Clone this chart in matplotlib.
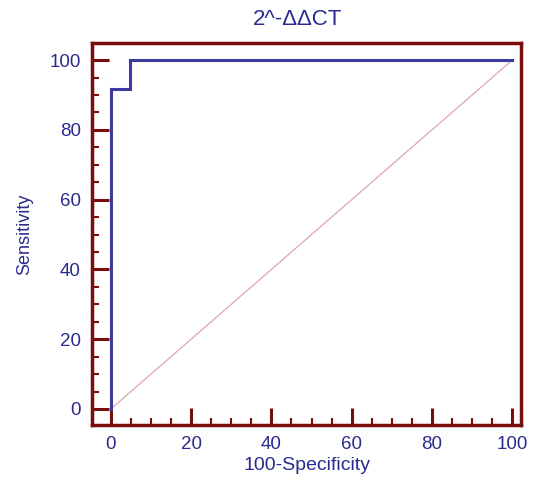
import matplotlib.pyplot as plt
import numpy as np

# ROC curve points (100-Specificity, Sensitivity)
fpr = [0, 0, 4.7, 4.7, 100]
tpr = [0, 91.7, 91.7, 100, 100]
ref_x = [0, 100]
ref_y = [0, 100]

frame_col = '#7b0c0c'
text_col = '#2b2b8f'

plt.rcParams['font.family'] = ['Liberation Sans', 'DejaVu Sans']

fig = plt.figure(figsize=(5.33, 4.8), dpi=100)
ax = fig.add_axes([0.1726, 0.1146, 0.805, 0.7958])

ax.plot(ref_x, ref_y, '-', color='#e0a8a8', linewidth=0.9)
ax.plot(fpr, tpr, '-', color='#3a3aa0', linewidth=2.2, solid_joinstyle='miter')

ax.set_xlim(-4.7, 102.2)
ax.set_ylim(-4.6, 104.9)
ax.set_xticks(np.arange(0, 101, 20))
ax.set_yticks(np.arange(0, 101, 20))
ax.set_xticks(np.arange(0, 101, 5), minor=True)
ax.set_yticks(np.arange(0, 101, 5), minor=True)

for s in ax.spines.values():
    s.set_color(frame_col)
    s.set_linewidth(2.5)

ax.tick_params(which='major', direction='in', length=12, width=2.2, color=frame_col,
               labelcolor=text_col, labelsize=13.5, pad=8)
ax.tick_params(which='minor', direction='in', length=5, width=1.5, color=frame_col)

ax.set_xlabel('100-Specificity', color=text_col, fontsize=14, labelpad=3)
ax.set_ylabel('Sensitivity', color=text_col, fontsize=13, labelpad=12)
ax.set_title('2^-ΔΔCT', color=text_col, fontsize=16, pad=13, x=0.478)

plt.savefig('out.png', dpi=100)
